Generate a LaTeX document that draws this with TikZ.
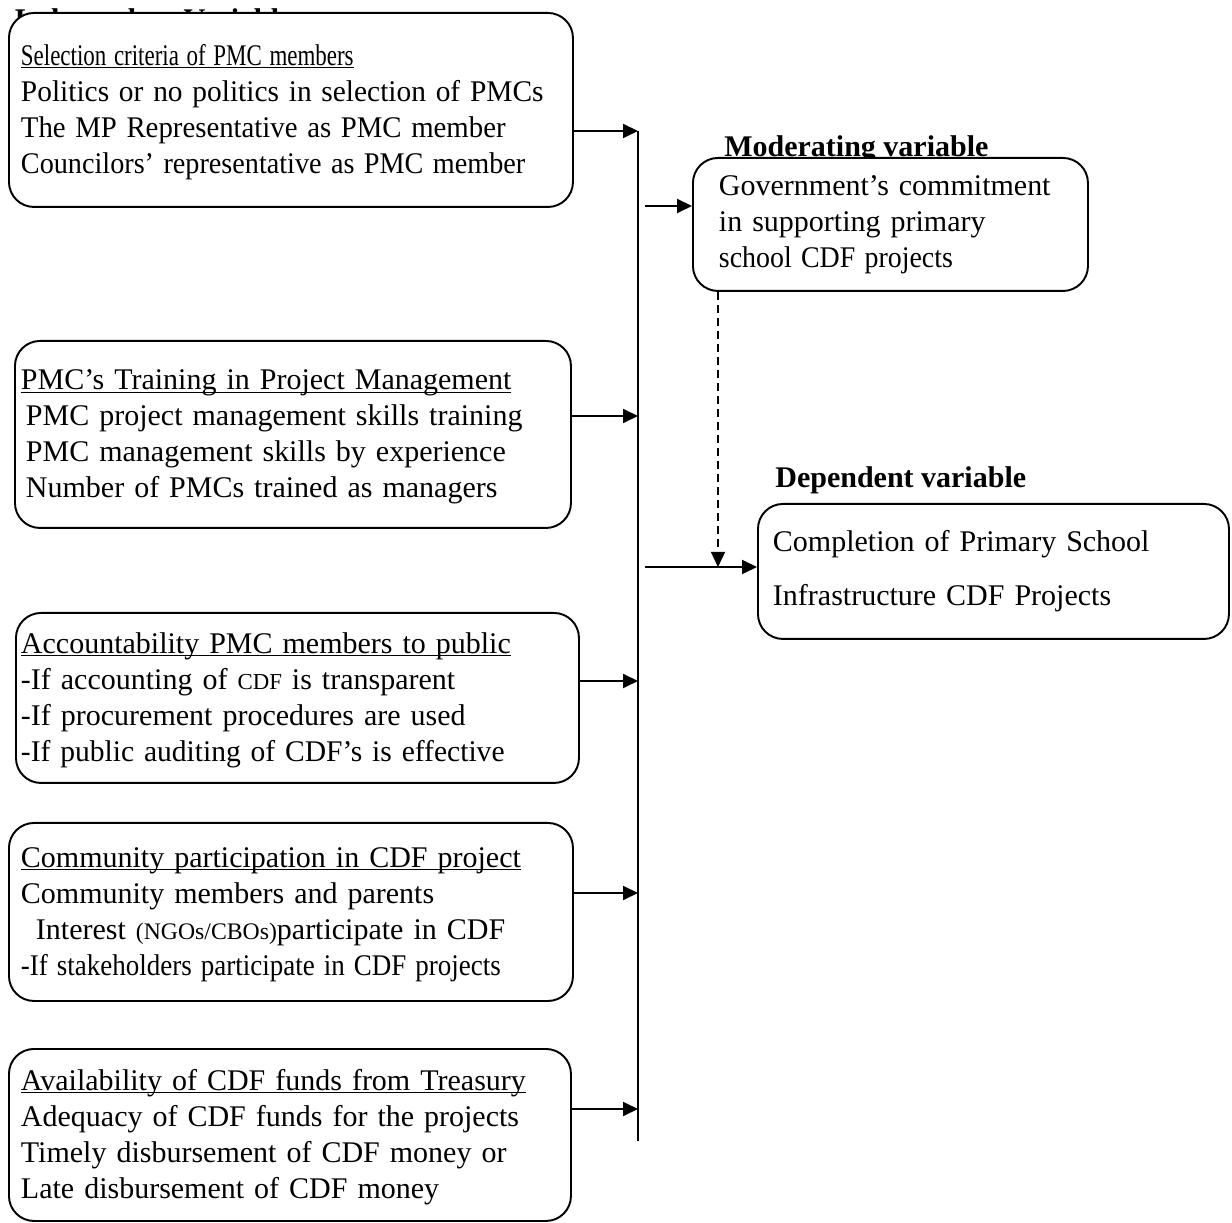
\documentclass[tikz,border=0pt]{standalone}
\usepackage{fontspec}
\setmainfont{Liberation Serif}
\usepackage{tikz}
\usetikzlibrary{arrows.meta,calc}
\def\bodyfont{\fontsize{17.07pt}{20.5pt}\selectfont}
\def\ulined#1{\underline{\smash{#1}}\strut}
\def\smallcdf#1{{\fontsize{13pt}{20.5pt}\selectfont #1}}
\def\squeeze#1#2{\scalebox{#1}[1]{#2}}
\tikzset{
	varbox/.style={draw, line width=1.1pt, rounded corners=0.5cm, fill=white, align=left, anchor=north west, inner ysep=0pt, font=\bodyfont},
	heading/.style={anchor=base west, inner sep=0pt, font=\bodyfont\bfseries},
	link/.style={line width=1.1pt, -{Triangle[length=0.3cm,width=0.28cm]}},
}

\begin{document}
\begin{tikzpicture}
		%%%%% START %%%%%
		\useasboundingbox (0,0) rectangle (24.64,-24.46);
		
		% headings, partly hidden by the boxes
		\node[heading] (indep) at (0.28,-0.60) {Independent Variables};
		\node[heading] (modh) at (14.48,-3.14) {Moderating variable};
		\node[heading] (deph) at (15.50,-9.76) {Dependent variable};
		
		% independent variables
		\node[varbox, inner xsep=0.24cm, text width=10.8cm, minimum height=3.88cm] (sel) at (0.16,-0.24) {\ulined{\squeeze{0.765}{Selection criteria of PMC members}}\\ \squeeze{0.98}{Politics or no politics in selection of PMCs}\\ \squeeze{0.96}{The MP Representative as PMC member}\\ \squeeze{0.94}{Councilors’ representative as PMC member}};
		\node[varbox, inner xsep=0.12cm, text width=10.88cm, minimum height=3.74cm] (trn) at (0.28,-6.80) {\ulined{PMC’s Training in Project Management}\\ \hspace*{0.1cm}PMC project management skills training\\ \hspace*{0.1cm}PMC management skills by experience\\ \hspace*{0.1cm}Number of PMCs trained as managers};
		\node[varbox, inner xsep=0.10cm, text width=11.06cm, minimum height=3.40cm] (acc) at (0.30,-12.24) {\ulined{Accountability PMC members to public}\\ -If accounting of \smallcdf{CDF} is transparent\\ -If procurement procedures are used\\ \squeeze{0.985}{-If public auditing of CDF’s is effective}};
		\node[varbox, inner xsep=0.24cm, text width=10.8cm, minimum height=3.56cm] (com) at (0.16,-16.44) {\ulined{Community participation in CDF project}\\ Community members and parents\\ \hspace*{0.3cm}Interest {\fontsize{13.5pt}{20.5pt}\selectfont(NGOs/CBOs)}participate in CDF\\ \squeeze{0.9}{-If stakeholders participate in CDF projects}};
		\node[varbox, inner xsep=0.24cm, text width=10.76cm, minimum height=3.44cm] (fund) at (0.16,-20.96) {\ulined{Availability of CDF funds from Treasury}\\ Adequacy of CDF funds for the projects\\ Timely disbursement of CDF money or\\ Late disbursement of CDF money};
		
		% moderating and dependent variables
		\node[varbox, inner xsep=0.52cm, text width=6.86cm, minimum height=2.66cm] (mod) at (13.84,-3.14) {Government’s commitment\\ in supporting primary\\ \squeeze{0.93}{school CDF projects}};
		\node[varbox, inner xsep=0.30cm, text width=8.82cm, minimum height=2.70cm] (dep) at (15.14,-10.06) {Completion of Primary School\\[0.36cm] Infrastructure CDF Projects};
		
		% collecting bar
		\coordinate (bartop) at (12.76,-2.62);
		\coordinate (barbot) at (12.76,-22.82);
		\draw[line width=1.1pt] (bartop) -- (barbot);
		
		\coordinate (b1) at (12.76,-2.62);
		\coordinate (b2) at (12.76,-8.32);
		\coordinate (b3) at (12.76,-13.62);
		\coordinate (b4) at (12.76,-17.86);
		\coordinate (b5) at (12.76,-22.18);
		
		\draw[link] (sel.east |- b1) -- (b1);
		\draw[link] (trn.east |- b2) -- (b2);
		\draw[link] (acc.east |- b3) -- (b3);
		\draw[link] (com.east |- b4) -- (b4);
		\draw[link] (fund.east |- b5) -- (b5);
		
		% out of the bar
		\coordinate (m0) at (12.90,-4.12);
		\coordinate (d0) at (12.90,-11.34);
		\coordinate (jn) at (14.36,-11.34);
		\draw[link] (m0) -- (mod.west |- m0);
		\draw[link] (d0) -- (dep.west |- d0);
		\draw[link, line width=0.8pt, dash pattern=on 0.16cm off 0.1cm] (mod.south -| jn) -- (jn);
		
		%%%%% END %%%%%
	\end{tikzpicture}
\end{document}
